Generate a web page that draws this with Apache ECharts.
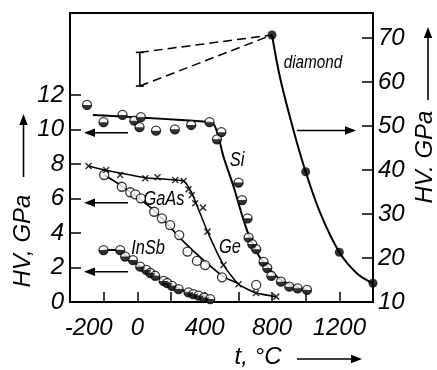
<!DOCTYPE html>
<html><head><meta charset="utf-8">
<script src="https://cdn.jsdelivr.net/npm/echarts@6/dist/echarts.min.js"></script>
<style>html,body{margin:0;padding:0;background:#fff}#c{width:437px;height:370px}</style>
</head><body><div id="c"></div>
<script>
// ---- axis ticks / labels ----
const xTickValues = [-400, -200, 0, 200, 400, 600, 800, 1000, 1200, 1400];
const xLabelValues = [-200, 0, 400, 800, 1200];
const leftTicks = [0, 2, 4, 6, 8, 10, 12];
const rightTicks = [10, 20, 30, 40, 50, 60, 70];

// ---- Si (left axis) ----
const siPoints = [[-299,11.42],[-201,10.42],[-88,10.84],[-18,10.51],[21,10.71],[13,10.13],[111,9.93],[223,10.01],[320,10.26],[429,10.42],[499,9.84],[473,9.43],[601,6.92],[622,5.91],[655,4.85],[661,3.73],[683,3.36],[706,3.06],[750,2.32],[772,1.97],[796,1.52],[853,1.18],[903,0.89],[952,0.79],[1008,0.70]];
const siLine = [[-264,10.84],[429,10.43],[457,10.26],[482,9.58],[512,8.42],[572,6.68],[631,4.75],[690,3.21],[770,2.05],[869,1.18],[1008,0.70]];

// ---- GaAs (left axis) ----
const gaasPoints = [[-197,7.36],[-92,6.68],[-42,6.36],[-12,6.24],[21,6.01],[100,5.23],[146,4.85],[195,4.46],[249,3.88],[298,2.92],[354,2.38],[403,2.14],[503,1.43],[706,0.99]];
const gaasLine = [[-197,7.36],[-102,6.78],[96,5.33],[275,3.50],[393,2.43],[512,1.47],[601,1.08]];

// ---- Ge (left axis) ----
const gePoints = [[-290,7.88],[-185,7.65],[-102,7.36],[47,7.17],[120,7.23],[225,7.07],[275,7.01],[304,6.53],[324,6.20],[344,5.72],[390,5.47],[417,4.08],[512,2.14],[601,1.03],[705,0.52],[825,0.31]];
const geLine = [[-290,7.88],[-185,7.63],[50,7.2],[275,7.01],[320,6.4],[417,4.08],[512,2.14],[601,1.03],[705,0.52],[825,0.31]];

// ---- InSb (left axis) ----
const insbPoints = [[-201,3.01],[-102,3.01],[-72,2.63],[-26,2.43],[17,2.05],[53,1.86],[77,1.68],[106,1.52],[156,1.22],[178,1.10],[206,0.94],[245,0.75],[304,0.56],[332,0.46],[364,0.37],[397,0.26],[433,0.17]];
const insbLine = [[-201,3.01],[-102,3.01],[-72,2.70],[17,2.05],[106,1.52],[206,0.95],[304,0.56],[433,0.17]];

// ---- diamond (right axis) ----
const diamondPoints = [[800,70.7],[1000,39.6],[1200,21.3],[1400,14.25]];
const diamondLine = [[800,70.7],[849,60.8],[928,49.0],[1000,39.6],[1087,30.2],[1200,21.3],[1305,16.5],[1400,14.25]];
// room temperature scatter range for diamond: [t, low, high]
const diamondRT = [15, 59.1, 66.75];

const halfDisk = (() => {
  let s = 'path://M0,0';
  for (let a = 0; a <= 180; a += 10) {
    const r = a * Math.PI / 180;
    s += ' L' + (10 - 10 * Math.cos(r)).toFixed(3) + ',' + (10 * Math.sin(r)).toFixed(3);
  }
  return s + ' Z';
})();
const crossSym = 'path://M0,0L10,10M10,0L0,10';

const AX_FONT = "'Liberation Sans', Arial, sans-serif";
const IN_FONT = "'Liberation Sans', Arial, sans-serif";

function arrow(x1, y1, x2, y2) {
  const dx = x2 - x1, dy = y2 - y1, L = Math.hypot(dx, dy), ux = dx / L, uy = dy / L;
  const hl = 11, hw = 4.2;
  const bx = x2 - ux * hl, by = y2 - uy * hl;
  return [
    {type: 'line', shape: {x1, y1, x2: bx + ux, y2: by + uy}, style: {stroke: '#000', lineWidth: 1.6}},
    {type: 'polygon', shape: {points: [[x2, y2], [bx - uy * hw, by + ux * hw], [bx + uy * hw, by - ux * hw]]}, style: {fill: '#000'}}
  ];
}
function txt(x, y, text, font, rot, sx) {
  return {type: 'text', x, y, rotation: rot || 0, scaleX: sx || 1,
    style: {text, font, fill: '#000', align: 'center', verticalAlign: 'middle', textAlign: 'center', textVerticalAlign: 'middle'}};
}

const openCircle = {color: '#fff', borderColor: '#000', borderWidth: 1.3};
function halfFilled(data, name) {
  return [
    {type: 'scatter', name: name, data, symbol: 'circle', symbolSize: 9, itemStyle: openCircle, z: 4},
    {type: 'scatter', name: name + 'h', data, symbol: halfDisk, symbolSize: [9, 4.5], symbolOffset: [0, 2.25], itemStyle: {color: '#000'}, z: 5}
  ];
}
const lineStyleBase = {color: '#000', width: 2};

const chart = echarts.init(document.getElementById('c'), null, {renderer: 'canvas'});
chart.setOption({
  animation: false,
  backgroundColor: '#fff',
  grid: {left: 70, right: 64, top: 13, bottom: 68, show: true, borderColor: '#000', borderWidth: 2},
  xAxis: {
    type: 'value', min: -400, max: 1400,
    axisLine: {show: true, onZero: false, lineStyle: {color: '#000', width: 2}},
    axisTick: {show: true, inside: true, length: 10, customValues: xTickValues, lineStyle: {color: '#000', width: 1.5}},
    axisLabel: {customValues: xLabelValues, color: '#000', fontSize: 24, fontStyle: 'italic', fontFamily: AX_FONT, margin: 14,
      formatter: v => v === -200 ? '{a|-200}' : String(v),
      rich: {a: {fontSize: 24, fontStyle: 'italic', fontFamily: AX_FONT, color: '#000', padding: [0, 30, 0, 0]}}},
    splitLine: {show: false}
  },
  yAxis: [{
    type: 'value', min: 0, max: 16.75, position: 'left',
    axisLine: {show: true, onZero: false, lineStyle: {color: '#000', width: 2}},
    axisTick: {show: true, inside: true, length: 11, customValues: leftTicks, lineStyle: {color: '#000', width: 1.5}},
    axisLabel: {customValues: leftTicks, color: '#000', fontSize: 24, fontStyle: 'italic', fontFamily: AX_FONT, margin: 6},
    splitLine: {show: false}
  }, {
    type: 'value', min: 10, max: 75.7, position: 'right',
    axisLine: {show: true, onZero: false, lineStyle: {color: '#000', width: 2}},
    axisTick: {show: true, inside: true, length: 11, customValues: rightTicks, lineStyle: {color: '#000', width: 1.5}},
    axisLabel: {customValues: rightTicks, color: '#000', fontSize: 24, fontStyle: 'italic', fontFamily: AX_FONT, margin: 5},
    splitLine: {show: false}
  }],
  series: [
    // diamond
    {type: 'line', name: 'diamondLine', yAxisIndex: 1, data: diamondLine, smooth: 0.35, symbol: 'none', lineStyle: lineStyleBase, z: 3},
    {type: 'scatter', name: 'diamond', yAxisIndex: 1, data: diamondPoints, symbol: 'circle', symbolSize: 9, itemStyle: {color: '#000'}, z: 5, clip: false},
    {type: 'lines', coordinateSystem: 'cartesian2d', yAxisIndex: 1, polyline: false,
      data: [{coords: [[diamondRT[0], diamondRT[2]], diamondPoints[0]]}, {coords: [[diamondRT[0], diamondRT[1]], diamondPoints[0]]}],
      lineStyle: {color: '#000', width: 1.5, type: [9, 5], opacity: 1}, z: 3},
    {type: 'custom', yAxisIndex: 1, data: [diamondRT],
      renderItem: (params, api) => {
        const lo = api.coord([api.value(0), api.value(1)]);
        const hi = api.coord([api.value(0), api.value(2)]);
        const st = {stroke: '#000', lineWidth: 1.6};
        return {type: 'group', children: [
          {type: 'line', shape: {x1: lo[0], y1: lo[1], x2: hi[0], y2: hi[1]}, style: st},
          {type: 'line', shape: {x1: lo[0] - 4, y1: lo[1], x2: lo[0] + 4, y2: lo[1]}, style: st},
          {type: 'line', shape: {x1: hi[0] - 4, y1: hi[1], x2: hi[0] + 4, y2: hi[1]}, style: st}
        ]};
      }, z: 4},
    // Si
    {type: 'line', name: 'SiLine', data: siLine, smooth: 0.3, symbol: 'none', lineStyle: lineStyleBase, z: 3},
    ...halfFilled(siPoints, 'Si'),
    // GaAs
    {type: 'line', name: 'GaAsLine', data: gaasLine, smooth: 0.3, symbol: 'none', lineStyle: {color: '#000', width: 1.6}, z: 3},
    {type: 'scatter', name: 'GaAs', data: gaasPoints, symbol: 'circle', symbolSize: 9, itemStyle: openCircle, z: 4},
    // Ge
    {type: 'line', name: 'GeLine', data: geLine, smooth: 0.15, symbol: 'none', lineStyle: {color: '#000', width: 1.5}, z: 3},
    {type: 'scatter', name: 'Ge', data: gePoints, symbol: crossSym, symbolSize: 6, itemStyle: {color: 'rgba(0,0,0,0)', borderColor: '#000', borderWidth: 1.5}, z: 4},
    // InSb
    {type: 'line', name: 'InSbLine', data: insbLine, smooth: 0.2, symbol: 'none', lineStyle: lineStyleBase, z: 3},
    ...halfFilled(insbPoints, 'InSb')
  ],
  graphic: [
    ...arrow(128, 132.7, 84, 132.7),
    ...arrow(128, 202.7, 84, 202.7),
    ...arrow(128, 271.7, 84, 271.7),
    ...arrow(297, 130.5, 356, 130.5),
    ...arrow(23.5, 177, 23.5, 114),
    ...arrow(428, 100, 428, 27),
    ...arrow(297, 359, 362, 359),
    txt(23, 241, 'HV, GPa', 'italic 24px ' + AX_FONT, Math.PI / 2),
    txt(425, 157, 'HV. GPa', 'italic 24px ' + AX_FONT, Math.PI / 2),
    txt(258, 357, 't, °C', 'italic 24px ' + AX_FONT),
    txt(237, 160, 'Si', 'italic 20px ' + IN_FONT, 0, 0.82),
    txt(164, 199, 'GaAs', 'italic 20px ' + IN_FONT, 0, 0.82),
    txt(230, 247, 'Ge', 'italic 20px ' + IN_FONT, 0, 0.82),
    txt(148, 248, 'InSb', 'italic 20px ' + IN_FONT, 0, 0.82),
    txt(313, 63, 'diamond', 'italic 18px ' + IN_FONT, 0, 0.85)
  ]
});
</script>
</body></html>
